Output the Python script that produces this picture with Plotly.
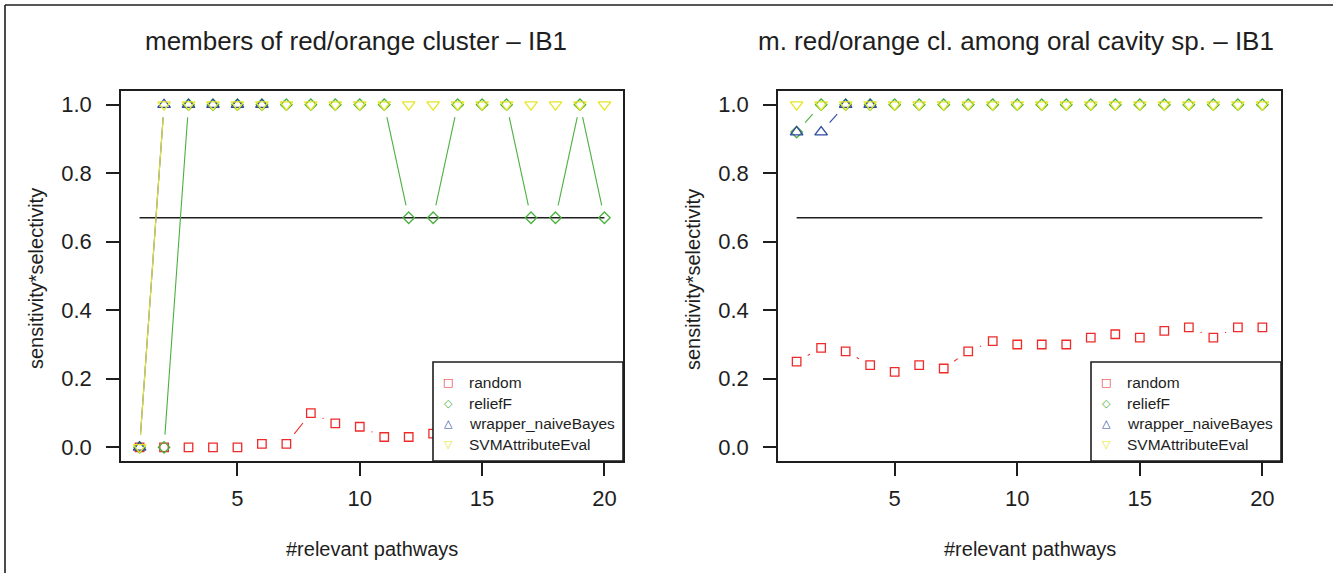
import plotly.graph_objects as go

W, H = 1333, 573

# ---------------- data ----------------
pathways = [1, 2, 3, 4, 5, 6, 7, 8, 9, 10, 11, 12, 13, 14, 15, 16, 17, 18, 19, 20]

left_random = [0.00, 0.00, 0.00, 0.00, 0.00, 0.01, 0.01, 0.10, 0.07, 0.06,
               0.03, 0.03, 0.04, 0.05, 0.04, 0.05, 0.06, 0.05, 0.05, 0.06]
left_relief = [0.00, 0.00, 1.00, 1.00, 1.00, 1.00, 1.00, 1.00, 1.00, 1.00,
               1.00, 0.67, 0.67, 1.00, 1.00, 1.00, 0.67, 0.67, 1.00, 0.67]
left_wrapper_x = [1, 2, 3, 4, 5, 6]
left_wrapper = [0.00, 1.00, 1.00, 1.00, 1.00, 1.00]
left_svm = [0.00, 1.00, 1.00, 1.00, 1.00, 1.00, 1.00, 1.00, 1.00, 1.00,
            1.00, 1.00, 1.00, 1.00, 1.00, 1.00, 1.00, 1.00, 1.00, 1.00]

right_random = [0.25, 0.29, 0.28, 0.24, 0.22, 0.24, 0.23, 0.28, 0.31, 0.30,
                0.30, 0.30, 0.32, 0.33, 0.32, 0.34, 0.35, 0.32, 0.35, 0.35]
right_relief = [0.92, 1.00, 1.00, 1.00, 1.00, 1.00, 1.00, 1.00, 1.00, 1.00,
                1.00, 1.00, 1.00, 1.00, 1.00, 1.00, 1.00, 1.00, 1.00, 1.00]
right_wrapper_x = [1, 2, 3, 4]
right_wrapper = [0.92, 0.92, 1.00, 1.00]
right_svm = [1.00, 1.00, 1.00, 1.00, 1.00, 1.00, 1.00, 1.00, 1.00, 1.00,
             1.00, 1.00, 1.00, 1.00, 1.00, 1.00, 1.00, 1.00, 1.00, 1.00]

baseline_x = [1, 20]
baseline_y = [0.67, 0.67]

titles = ["members of red/orange cluster \u2013 IB1",
          "m. red/orange cl. among oral cavity sp. \u2013 IB1"]
series_names = ["random", "reliefF", "wrapper_naiveBayes", "SVMAttributeEval"]
x_tickvals = [5, 10, 15, 20]
y_tickvals = [0.0, 0.2, 0.4, 0.6, 0.8, 1.0]
y_ticktext = ["0.0", "0.2", "0.4", "0.6", "0.8", "1.0"]
x_label = "#relevant pathways"
y_label = "sensitivity*selectivity"

# ---------------- styling ----------------
FONT = "Liberation Sans, Arial, Helvetica, sans-serif"
INK = "#1e1e1e"
COLORS = ["#EE2A2A", "#4CB040", "#2D4A9E", "#E6E62A"]
SYMBOLS = ["square-open", "diamond-open", "triangle-up-open", "triangle-down-open"]
SIZES = [8.5, 8.8, 11, 11]
LEG_GLYPHS = ["\u25A1", "\u25C7", "\u25B3", "\u25BD"]

XR = [0.24, 20.76]
YR = [-0.04, 1.04]
panels_px = [(121, 623), (778, 1281)]   # left/right edges of plot boxes
top_px, bot_px = 91, 461
GAP = 12.7


def px2x(p):
    return p / W


def px2y(p):
    return 1 - p / H


def gapped(xs, ys, left, right):
    sx = (right - left) / (XR[1] - XR[0])
    sy = (bot_px - top_px) / (YR[1] - YR[0])
    ox, oy = [], []
    for i in range(len(xs) - 1):
        ddx, ddy = xs[i + 1] - xs[i], ys[i + 1] - ys[i]
        L = ((ddx * sx) ** 2 + (ddy * sy) ** 2) ** 0.5
        if L <= 2 * GAP:
            continue
        f = GAP / L
        ox += [xs[i] + f * ddx, xs[i + 1] - f * ddx, None]
        oy += [ys[i] + f * ddy, ys[i + 1] - f * ddy, None]
    return ox, oy


fig = go.Figure()

panel_data = [
    [(pathways, left_random), (pathways, left_relief),
     (left_wrapper_x, left_wrapper), (pathways, left_svm)],
    [(pathways, right_random), (pathways, right_relief),
     (right_wrapper_x, right_wrapper), (pathways, right_svm)],
]

for p, (series, (lpx, rpx)) in enumerate(zip(panel_data, panels_px)):
    xa = "x" if p == 0 else "x2"
    ya = "y" if p == 0 else "y2"
    fig.add_trace(go.Scatter(x=baseline_x, y=baseline_y, mode="lines",
                             line=dict(color=INK, width=1.6),
                             xaxis=xa, yaxis=ya, showlegend=False,
                             hoverinfo="skip"))
    for k, (xs, ys) in enumerate(series):
        gx, gy = gapped(xs, ys, lpx, rpx)
        fig.add_trace(go.Scatter(x=gx, y=gy, mode="lines",
                                 line=dict(color=COLORS[k], width=1.1),
                                 xaxis=xa, yaxis=ya, showlegend=False,
                                 hoverinfo="skip", connectgaps=False))
        fig.add_trace(go.Scatter(x=xs, y=ys, mode="markers", name=series_names[k],
                                 marker=dict(symbol=SYMBOLS[k], size=SIZES[k],
                                             color=COLORS[k],
                                             line=dict(color=COLORS[k], width=1.3)),
                                 xaxis=xa, yaxis=ya, showlegend=False))

axis_common = dict(showline=True, mirror=True, linecolor=INK, linewidth=1.6,
                   ticks="outside", ticklen=13, tickwidth=1.6, tickcolor=INK,
                   showgrid=False, zeroline=False,
                   tickfont=dict(family=FONT, size=22, color=INK))

layout = dict(
    width=W, height=H, autosize=False,
    margin=dict(l=0, r=0, t=0, b=0),
    paper_bgcolor="white", plot_bgcolor="white",
    showlegend=False,
    xaxis=dict(domain=[px2x(121), px2x(623)], range=XR, tickvals=x_tickvals,
               anchor="y", ticklabelstandoff=4, **axis_common),
    yaxis=dict(domain=[px2y(bot_px), px2y(top_px)], range=YR, tickvals=y_tickvals,
               ticktext=y_ticktext, anchor="x", ticklabelstandoff=10, **axis_common),
    xaxis2=dict(domain=[px2x(778), px2x(1281)], range=XR, tickvals=x_tickvals,
                anchor="y2", ticklabelstandoff=4, **axis_common),
    yaxis2=dict(domain=[px2y(bot_px), px2y(top_px)], range=YR, tickvals=y_tickvals,
                ticktext=y_ticktext, anchor="x2", ticklabelstandoff=10, **axis_common),
)
fig.update_layout(**layout)

shapes = [
    dict(type="line", xref="paper", yref="paper", x0=px2x(5), x1=1.0,
         y0=px2y(5), y1=px2y(5), line=dict(color=INK, width=1.6)),
    dict(type="line", xref="paper", yref="paper", x0=px2x(5), x1=px2x(5),
         y0=px2y(5), y1=0.0, line=dict(color=INK, width=1.6)),
]
annotations = []
title_cx = [356, 1016]
LEG_W, LEG_H = 190, 99
row_off = [21, 41.4, 61.8, 82.2]
for p, (lpx, rpx) in enumerate(panels_px):
    cx = (lpx + rpx) / 2
    annotations.append(dict(text=titles[p], x=px2x(title_cx[p]), y=px2y(41),
                            xref="paper", yref="paper", xanchor="center",
                            yanchor="middle", showarrow=False,
                            font=dict(family=FONT, size=26, color=INK)))
    annotations.append(dict(text=x_label, x=px2x(cx), y=px2y(549),
                            xref="paper", yref="paper", xanchor="center",
                            yanchor="middle", showarrow=False,
                            font=dict(family=FONT, size=20, color=INK)))
    annotations.append(dict(text=y_label, x=px2x(lpx - 85), y=px2y(279),
                            xref="paper", yref="paper", xanchor="center",
                            yanchor="middle", showarrow=False, textangle=-90,
                            font=dict(family=FONT, size=20, color=INK)))
    lx0 = rpx - LEG_W
    ly0 = bot_px - LEG_H
    shapes.append(dict(type="rect", xref="paper", yref="paper",
                       x0=px2x(lx0), x1=px2x(rpx), y0=px2y(bot_px), y1=px2y(ly0),
                       fillcolor="white", line=dict(color=INK, width=1.6),
                       layer="above"))
    for k in range(4):
        annotations.append(dict(text="<b>" + LEG_GLYPHS[k] + "</b>", x=px2x(lx0 + 15),
                                y=px2y(ly0 + row_off[k]), xref="paper", yref="paper",
                                xanchor="center", yanchor="middle", showarrow=False,
                                font=dict(family="DejaVu Sans", size=11,
                                          color=COLORS[k])))
        annotations.append(dict(text=series_names[k], x=px2x(lx0 + 34),
                                y=px2y(ly0 + row_off[k]), xref="paper", yref="paper",
                                xanchor="left", yanchor="middle", showarrow=False,
                                font=dict(family=FONT, size=15.5, color=INK)))

fig.update_layout(shapes=shapes, annotations=annotations)

fig.write_html("out.html", config={"displayModeBar": False},
               post_script="document.body.style.margin='0';")
